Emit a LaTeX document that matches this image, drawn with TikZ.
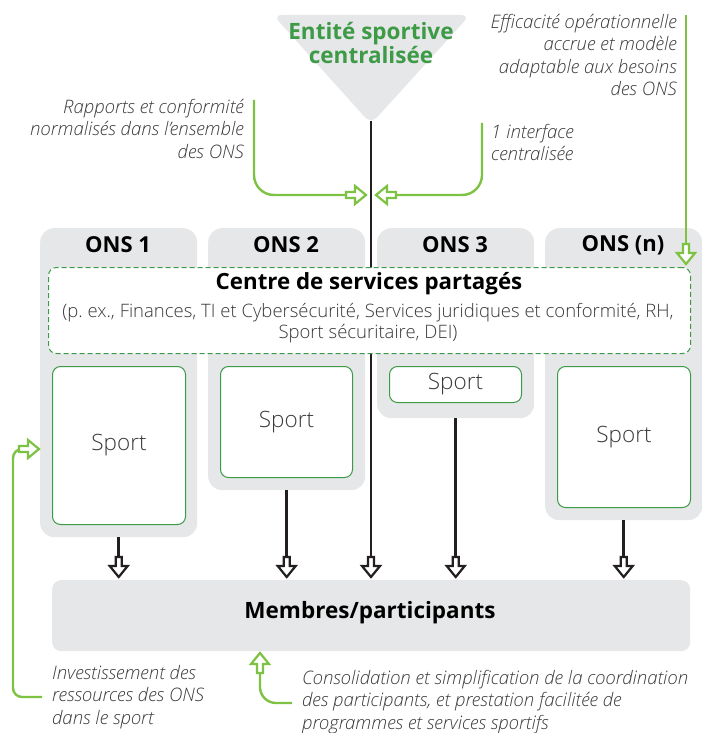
\documentclass[tikz,border=0pt]{standalone}
\usepackage{fontspec}
\setmainfont{Open Sans}
\IfFontExistsTF{Open Sans Light}{%
  \IfFontExistsTF{Open Sans Light Italic}{%
    \newfontfamily\lightfont{Open Sans Light}[ItalicFont={Open Sans Light Italic}]}{%
    \newfontfamily\lightfont{Open Sans}}}{%
  \newfontfamily\lightfont{Open Sans}}
\usetikzlibrary{calc}
\definecolor{boxgray}{HTML}{E6E7E8}
\definecolor{lgreen}{HTML}{7DC243}
\definecolor{dgreen}{HTML}{3D9A47}
\definecolor{ink}{HTML}{231F20}
\definecolor{txt}{HTML}{3A3A3A}
\tikzset{
  onsbox/.style={fill=boxgray, rounded corners=14pt, anchor=north west, inner sep=0pt},
  sportbox/.style={draw=dgreen, line width=1pt, fill=white, rounded corners=8pt, anchor=north west, inner sep=0pt, text=txt, font=\lightfont\fontsize{22.5}{26}\selectfont},
  onstitle/.style={font=\bfseries\fontsize{22}{26}\selectfont, text=black},
  note/.style={font=\lightfont\itshape\fontsize{18.6}{22.5}\selectfont, text=txt, inner sep=0pt},
  blk/.style={draw=ink, line width=2.6pt},
  grn/.style={draw=lgreen, line width=2.4pt},
  pics/blockhead/.style={code={
    \draw[line width=2.2pt, fill=white, line join=miter]
      (0pt,0pt) -- (-11pt,9pt) -- (-11pt,3pt) -- (-20pt,3pt) -- (-20pt,-3pt) -- (-11pt,-3pt) -- (-11pt,-9pt) -- cycle;}}
}
\begin{document}
\begin{tikzpicture}[x=1pt,y=-1pt]
\useasboundingbox (0,0) rectangle (709,733);

% top entity triangle
\fill[boxgray, rounded corners=9pt] (273,15) -- (470,15) -- (371,124) -- cycle;
\coordinate (apex) at (371,121);
\node[font=\bfseries\fontsize{22.5}{23.5}\selectfont, text=dgreen, align=center] (ent) at (371,43) {Entité sportive\\centralisée};

% ONS boxes
\node[onsbox, minimum width=157pt, minimum height=309pt] (ons1) at (40,228) {};
\node[onsbox, minimum width=157pt, minimum height=262pt] (ons2) at (208,228) {};
\node[onsbox, minimum width=157pt, minimum height=190pt] (ons3) at (377,228) {};
\node[onsbox, minimum width=157pt, minimum height=292pt] (onsn) at (545,228) {};
\node[onstitle] (t1) at (118,245) {ONS 1};
\node[onstitle] (t2) at (286,245) {ONS 2};
\node[onstitle] (t3) at (455,245) {ONS 3};
\node[onstitle] (tn) at (623,245) {ONS (n)};

% members box
\node[fill=boxgray, rounded corners=9pt, anchor=north west, inner sep=0pt, minimum width=638pt, minimum height=71pt] (mem) at (52,580) {};
\node[font=\bfseries\fontsize{22.5}{26}\selectfont] (memt) at (370,613) {Membres/participants};

% central black line (behind the shared services box)
\draw[blk] (apex) -- ($(mem.north -| apex)+(0,-22)$);
\pic[ink, rotate=-90] at ($(mem.north -| apex)+(0,-3)$) {blockhead};

% shared services box
\node[draw=dgreen, dash pattern=on 5pt off 3pt, line width=1pt, fill=white, rounded corners=8pt, anchor=north west, inner sep=0pt, minimum width=642pt, minimum height=86pt] (csp) at (48,267) {};
\node[font=\bfseries\fontsize{22.3}{26}\selectfont] (cspt) at (369,284) {Centre de services partagés};
\node[font=\lightfont\fontsize{18.5}{21}\selectfont, text=txt, align=center] (cspd) at (368,323) {(p.\ ex., Finances, TI et Cybersécurité, Services juridiques et conformité, RH,\\Sport sécuritaire, DEI)};

% sport boxes
\node[sportbox, minimum width=133pt, minimum height=158pt] (s1) at (52,366) {Sport};
\node[sportbox, minimum width=132pt, minimum height=111pt] (s2) at (220,366) {Sport};
\node[sportbox, minimum width=132pt, minimum height=36pt] (s3) at (389,366) {Sport};
\node[sportbox, minimum width=133pt, minimum height=141pt] (sn) at (557,366) {Sport};

% black arrows to members
\foreach \o in {ons1,ons2,ons3,onsn}{
  \draw[blk] (\o.south) -- ($(mem.north -| \o.south)+(0,-22)$);
  \pic[ink, rotate=-90] at ($(mem.north -| \o.south)+(0,-3)$) {blockhead};
}

% annotations
\node[note, align=right, anchor=north east] (rap) at (244,99) {Rapports et conformité\\normalisés dans l’ensemble\\des ONS};
\node[note, align=right, anchor=north east] (eff) at (677,14) {Efficacité opérationnelle\\accrue et modèle\\adaptable aux besoins\\des ONS};
\node[note, align=left, anchor=north west] (itf) at (491,124) {1 interface\\centralisée};
\node[note, align=left, anchor=north west] (inv) at (52,665) {Investissement des\\ressources des ONS\\dans le sport};
\node[note, align=left, anchor=north west] (con) at (302,670) {Consolidation et simplification de la coordination\\des participants, et prestation facilitée de\\programmes et services sportifs};

% green connectors
\coordinate (g1a) at (254,100);
\coordinate (g1t) at (366,195);
\draw[grn, rounded corners=20pt] (g1a) |- ($(g1t)+(-21,0)$);
\pic[lgreen] at (g1t) {blockhead};

\coordinate (g2a) at (482,123);
\coordinate (g2t) at (376,195);
\draw[grn, rounded corners=20pt] (g2a) |- ($(g2t)+(21,0)$);
\pic[lgreen, rotate=180] at (g2t) {blockhead};

\coordinate (g3a) at (686,15);
\coordinate (g3t) at (686,264);
\draw[grn] (g3a) -- ($(g3t)+(0,-21)$);
\pic[lgreen, rotate=-90] at (g3t) {blockhead};

\coordinate (g4a) at (42,697);
\coordinate (g4t) at (39,449);
\draw[grn, rounded corners=9pt] (g4a) -- (13,697) -- (13,449) -- ($(g4t)+(-21,0)$);
\pic[lgreen] at (g4t) {blockhead};

\coordinate (g5a) at (292,703);
\coordinate (g5t) at (260,653);
\draw[grn, rounded corners=16pt] (g5a) -| ($(g5t)+(0,21)$);
\pic[lgreen, rotate=90] at (g5t) {blockhead};
\end{tikzpicture}
\end{document}
